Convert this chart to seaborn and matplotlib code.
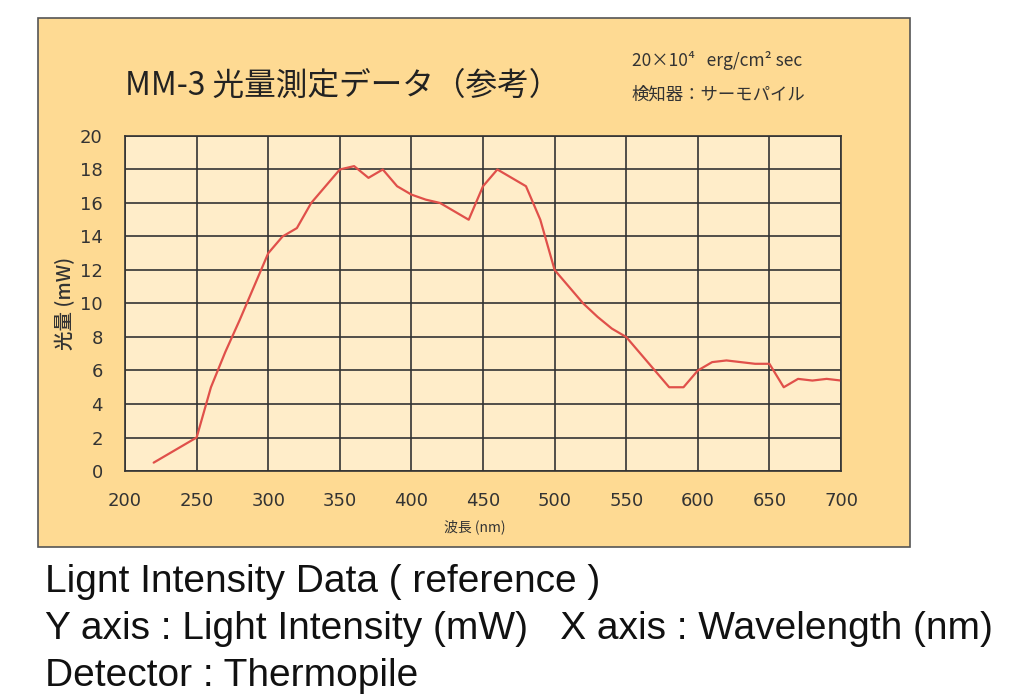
import matplotlib.pyplot as plt
import matplotlib.patches as patches
import pandas as pd
import seaborn as sns

# Data
wavelength = [220, 250, 260, 270, 280, 290, 300, 310, 320, 330, 340, 350, 360,
              370, 380, 390, 400, 410, 420, 430, 440, 450, 460, 470, 480, 490,
              500, 510, 520, 530, 540, 550, 560, 570, 580, 590, 600, 610, 620,
              630, 640, 650, 660, 670, 680, 690, 700]
power = [0.5, 2, 5, 7.1, 9.0, 11.0, 13, 14, 14.5, 16, 17, 18, 18.2,
         17.5, 18, 17, 16.5, 16.2, 16, 15.5, 15, 17, 18, 17.5, 17, 15,
         12, 11, 10, 9.2, 8.5, 8, 7, 6, 5, 5, 6, 6.5, 6.6,
         6.5, 6.4, 6.4, 5, 5.5, 5.4, 5.5, 5.4]
x_ticks = [200, 250, 300, 350, 400, 450, 500, 550, 600, 650, 700]
y_ticks = [0, 2, 4, 6, 8, 10, 12, 14, 16, 18, 20]

title = 'MM-3 光量測定データ（参考）'
note_1 = '20×10⁴   erg/cm² sec'
note_2 = '検知器：サーモパイル'
caption = ['Lignt Intensity Data ( reference )',
           'Y axis : Light Intensity (mW)   X axis : Wavelength (nm)',
           'Detector : Thermopile']

df = pd.DataFrame({'wavelength': wavelength, 'power': power})

sns.set_style('white')
plt.rcParams['font.family'] = ['Noto Sans CJK JP', 'DejaVu Sans']

fig = plt.figure(figsize=(10.24, 6.98), dpi=100)
fig.patch.set_facecolor('white')

# Orange panel behind the chart
panel = patches.Rectangle((0.0371, 0.2163), 0.8516, 0.758, transform=fig.transFigure,
                          facecolor='#FEDA93', edgecolor='#555555', linewidth=1.2,
                          zorder=-5)
fig.patches.append(panel)

ax = fig.add_axes([0.1221, 0.3252, 0.6992, 0.480])
ax.set_zorder(2)
ax.set_facecolor('#FFEDC9')

sns.lineplot(data=df, x='wavelength', y='power', color='#E0504A', linewidth=1.6, ax=ax)

ax.set_xlim(200, 700)
ax.set_ylim(0, 20)
ax.set_xticks(x_ticks)
ax.set_yticks(y_ticks)
ax.grid(True, color='#333333', linewidth=1.2)
ax.set_axisbelow(True)
for s in ax.spines.values():
    s.set_color('#333333')
    s.set_linewidth(1.2)
ax.tick_params(axis='both', length=0, labelsize=13, colors='#333333',
               labelfontfamily='DejaVu Sans')
ax.tick_params(axis='x', pad=15)
ax.tick_params(axis='y', pad=16)

ax.set_xlabel('波長 (nm)', fontsize=10, color='#333333')
ax.xaxis.set_label_coords(0.489, -0.145)
ax.set_ylabel('光量 (mW)', fontsize=14, color='#333333', fontweight='medium')
ax.yaxis.set_label_coords(-0.07, 0.5)

fig.text(0.122, 0.877, title, fontsize=22.8, color='#222222', va='center', ha='left')
fig.text(0.617, 0.914, note_1, fontsize=12.5, color='#333333', va='center', ha='left')
fig.text(0.617, 0.864, note_2, fontsize=12.5, color='#333333', va='center', ha='left')

for i, line in enumerate(caption):
    fig.text(0.044, 0.166 - i * 0.0675, line, fontsize=28, color='#111111',
             va='center', ha='left', family='Liberation Sans')

fig.savefig('out.png', dpi=100)
